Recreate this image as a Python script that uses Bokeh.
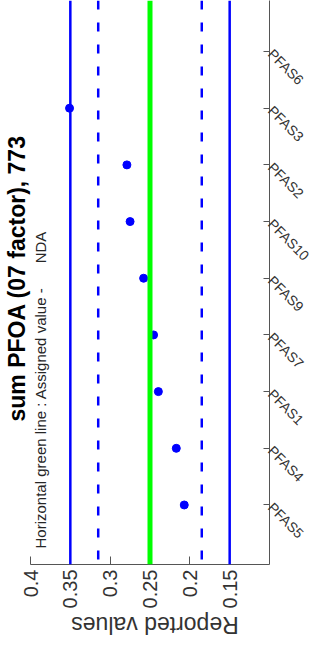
import math
import numpy as np
from bokeh.plotting import figure
from bokeh.models import Range1d, FixedTicker, Span, Label, Title, ColumnDataSource
from bokeh.embed import file_html
from bokeh.resources import INLINE

# ---- data ----
categories = ["PFAS5", "PFAS4", "PFAS1", "PFAS7", "PFAS9", "PFAS10", "PFAS2", "PFAS3", "PFAS6"]
reported = [0.207, 0.217, 0.2395, 0.2455, 0.258, 0.275, 0.279, 0.351, float("nan")]
assigned_value = 0.25
outer_limits = [0.35, 0.15]
inner_limits = [0.315, 0.185]
value_ticks = [0.4, 0.35, 0.3, 0.25, 0.2, 0.15]
value_tick_labels = ["0.4", "0.35", "0.3", "0.25", "0.2", "0.15"]
title_text = "sum PFOA (07 factor), 773"
subtitle_text = "Horizontal green line : Assigned value -\u00a0\u00a0\u00a0\u00a0\u00a0\u00a0NDA"
axis_label_text = "Reported values"

positions = list(range(1, len(categories) + 1))
X_START, X_END = 0.4, 0.1
Y_START, Y_END = -0.05, 9.9

FONT = "Liberation Sans"

p = figure(width=327, height=637, output_backend="svg", toolbar_location=None,
           x_range=Range1d(X_START, X_END), y_range=Range1d(Y_START, Y_END),
           x_axis_location="below", y_axis_location="right",
           min_border_left=26, min_border_right=58, min_border_top=0, min_border_bottom=10)
p.outline_line_color = None
p.xgrid.visible = False
p.ygrid.visible = False
p.background_fill_color = "white"
p.border_fill_color = "white"

src = ColumnDataSource(dict(x=reported, y=positions))
p.scatter("x", "y", source=src, size=8, color="#0000ff")

for v in outer_limits:
    p.add_layout(Span(location=v, dimension="height", line_color="#0000ff", line_width=2.5))
for v in inner_limits:
    p.add_layout(Span(location=v, dimension="height", line_color="#0000ff", line_width=2.5,
                      line_dash="9 13"))
p.add_layout(Span(location=assigned_value, dimension="height", line_color="#00ff00", line_width=5))

# bottom (values) axis
xa = p.xaxis[0]
xa.ticker = FixedTicker(ticks=value_ticks)
xa.major_label_overrides = {t: l for t, l in zip(value_ticks, value_tick_labels)}
xa.major_label_orientation = math.pi / 2
xa.major_tick_in = 8
xa.major_tick_out = 0
xa.minor_tick_line_color = None
xa.axis_line_color = "#555555"
xa.major_tick_line_color = "#555555"
xa.major_label_text_font = FONT
xa.major_label_text_font_size = "20px"
xa.major_label_text_color = "#333333"
xa.major_label_standoff = 5
xa.axis_label = None

# axis title, upside down, in the panel below the value axis
p.add_layout(Label(x=(X_START + X_END) / 2, y=Y_START, x_offset=5, y_offset=-60, text=axis_label_text,
                   angle=math.pi, text_align="center", text_baseline="middle",
                   text_font=FONT, text_font_size="23px", text_color="#333333"), "below")

# right (categories) axis
ya = p.yaxis[0]
ya.ticker = FixedTicker(ticks=positions)
ya.major_label_overrides = {t: c for t, c in zip(positions, categories)}
ya.major_label_orientation = -math.pi / 4
ya.major_tick_in = 6
ya.major_tick_out = 0
ya.minor_tick_line_color = None
ya.axis_line_color = "#555555"
ya.major_tick_line_color = "#555555"
ya.major_label_text_font = FONT
ya.major_label_text_font_size = "14px"
ya.major_label_text_color = "#333333"
ya.major_label_standoff = 1
ya.axis_label = None

p.add_layout(Title(text=title_text, align="left", offset=143, standoff=2,
                   text_font=FONT, text_font_size="23px", text_font_style="bold",
                   text_color="black"), "left")

p.add_layout(Label(x=X_START, y=Y_START, x_offset=10, y_offset=16, text=subtitle_text, angle=math.pi / 2,
                   text_align="left", text_baseline="middle", text_font=FONT,
                   text_font_size="15px", text_color="#262626"))

open("out.html", "w").write(file_html(p, INLINE))
